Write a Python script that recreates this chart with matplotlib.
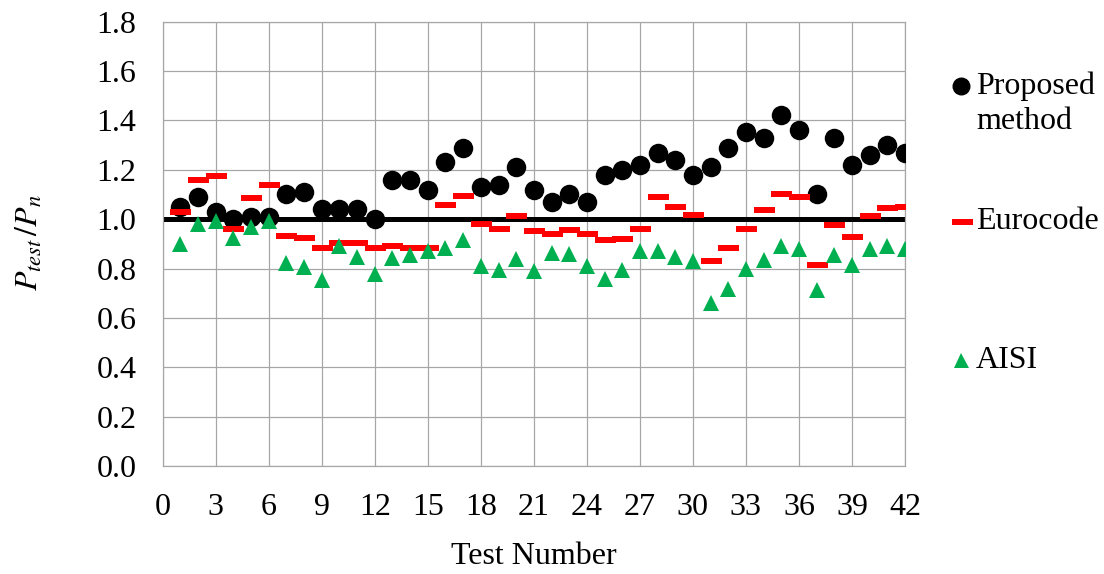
import matplotlib
matplotlib.use("Agg")
import matplotlib.pyplot as plt
from matplotlib.lines import Line2D
import numpy as np

plt.rcParams['font.family'] = ['Liberation Serif', 'DejaVu Serif']
plt.rcParams['mathtext.fontset'] = 'stix'

# Test numbers 1..42
tests = list(range(1, 43))

# P_test / P_n ratios per design approach
proposed = [1.05, 1.09, 1.03, 1.00, 1.01, 1.01, 1.10, 1.11, 1.04, 1.04,
            1.04, 1.00, 1.16, 1.16, 1.12, 1.23, 1.29, 1.13, 1.14, 1.21,
            1.12, 1.07, 1.10, 1.07, 1.18, 1.20, 1.22, 1.27, 1.24, 1.18,
            1.21, 1.29, 1.355, 1.33, 1.42, 1.36, 1.10, 1.33, 1.22, 1.26,
            1.30, 1.27]
eurocode = [1.03, 1.16, 1.175, 0.96, 1.085, 1.137, 0.933, 0.924, 0.882, 0.904,
            0.904, 0.882, 0.893, 0.884, 0.883, 1.059, 1.095, 0.982, 0.96, 1.012,
            0.951, 0.939, 0.956, 0.939, 0.914, 0.919, 0.96, 1.09, 1.048, 1.017,
            0.831, 0.882, 0.96, 1.039, 1.101, 1.09, 0.814, 0.976, 0.929, 1.013,
            1.044, 1.049]
aisi = [0.90, 0.982, 0.993, 0.925, 0.968, 0.993, 0.823, 0.806, 0.755, 0.89,
        0.847, 0.779, 0.843, 0.854, 0.872, 0.885, 0.914, 0.81, 0.796, 0.837,
        0.79, 0.863, 0.86, 0.809, 0.759, 0.796, 0.87, 0.873, 0.847, 0.832,
        0.66, 0.719, 0.797, 0.833, 0.891, 0.881, 0.714, 0.854, 0.813, 0.881,
        0.89, 0.879]

# Unity reference line
ref_x = [0, 42]
ref_y = [1.0, 1.0]

x_ticks = list(range(0, 43, 3))
y_ticks = [0.0, 0.2, 0.4, 0.6, 0.8, 1.0, 1.2, 1.4, 1.6, 1.8]

BLACK = '#000000'
RED = '#FF0000'
GREEN = '#00B050'
GRID = '#A6A6A6'
PX = 72 / 100  # points per pixel at dpi 100
FS = 23

# flat rectangle used as the dash marker
dash = [(-1, -0.27), (1, -0.27), (1, 0.27), (-1, 0.27), (-1, -0.27)]

fig = plt.figure(figsize=(11.04, 5.74), dpi=100)
ax = fig.add_axes([162.7 / 1104, 1 - 466 / 574, (905 - 162.7) / 1104, (466 - 21.7) / 574])

ax.plot(ref_x, ref_y, color=BLACK, lw=5 * PX, solid_capstyle='butt', zorder=2)
ax.plot(tests, proposed, ls='none', marker='o', ms=19.5 * PX, mfc=BLACK, mew=0, zorder=3)
ax.plot(tests, eurocode, ls='none', marker=dash, ms=21 * PX, mfc=RED, mew=0, zorder=4)
ax.plot(tests, aisi, ls='none', marker='^', ms=16 * PX, mfc=GREEN, mew=0, zorder=5)

ax.set_xlim(0, 42)
ax.set_ylim(0, 1.8)
ax.set_xticks(x_ticks)
ax.set_yticks(y_ticks)
ax.set_yticklabels([f'{v:.1f}' for v in y_ticks])
ax.grid(True, color=GRID, lw=1.2 * PX)
ax.set_axisbelow(True)
for s in ax.spines.values():
    s.set_color(GRID)
    s.set_linewidth(1.2 * PX)
ax.tick_params(axis='both', length=0, labelsize=FS, colors=BLACK)
ax.tick_params(axis='x', pad=19.5)
ax.tick_params(axis='y', pad=19)

fig.text(534 / 1104, 1 - 557 / 574, 'Test Number', ha='center', va='center', fontsize=FS)
fig.text(30 / 1104, 1 - 243 / 574, r'$P_{test}\,/P_n$', ha='center', va='center',
         rotation=90, fontsize=23)

# legend keys
def fy(py):
    return 1 - py / 574

fig.add_artist(Line2D([961 / 1104], [fy(86)], transform=fig.transFigure, ls='none',
                      marker='o', ms=18 * PX, mfc=BLACK, mew=0))
fig.add_artist(Line2D([961.5 / 1104], [fy(222)], transform=fig.transFigure, ls='none',
                      marker=dash, ms=21 * PX, mfc=RED, mew=0))
fig.add_artist(Line2D([961 / 1104], [fy(360)], transform=fig.transFigure, ls='none',
                      marker='^', ms=15 * PX, mfc=GREEN, mew=0))
fig.text(976 / 1104, fy(86), 'Proposed', ha='left', va='center', fontsize=FS)
fig.text(976 / 1104, fy(121.5), 'method', ha='left', va='center', fontsize=FS)
fig.text(976 / 1104, fy(222), 'Eurocode', ha='left', va='center', fontsize=FS)
fig.text(976 / 1104, fy(360), 'AISI', ha='left', va='center', fontsize=FS)

fig.savefig('out.png', dpi=100)
